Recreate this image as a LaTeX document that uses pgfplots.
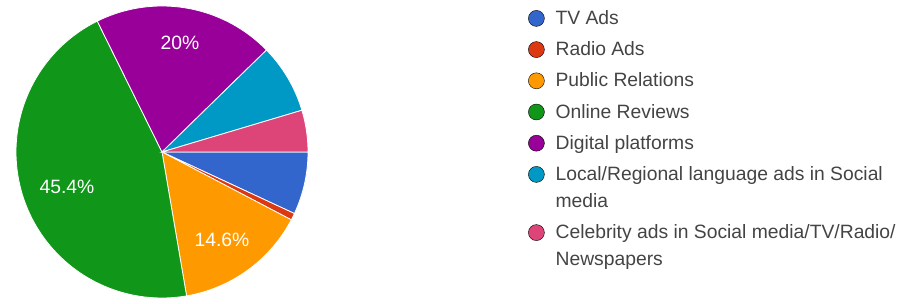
\documentclass[border=0pt]{standalone}
\usepackage{pgfplots}
\pgfplotsset{compat=1.18}
\usepackage{fontspec}
\setmainfont{Liberation Sans}
\definecolor{cTV}{HTML}{3366CC}
\definecolor{cRadio}{HTML}{DC3912}
\definecolor{cPR}{HTML}{FF9900}
\definecolor{cOR}{HTML}{109618}
\definecolor{cDP}{HTML}{990099}
\definecolor{cLoc}{HTML}{0099C6}
\definecolor{cCel}{HTML}{DD4477}
\definecolor{legendgray}{HTML}{444444}
% pie centre, radius and total number of responses (counts: 9,1,19,59,26,10,6)
\newcommand{\cx}{162}
\newcommand{\cy}{151}
\newcommand{\R}{146}
\newcommand{\N}{130}
\begin{document}
\begin{tikzpicture}
\begin{axis}[
  scale only axis, width=907pt, height=303pt,
  xmin=0, xmax=907, ymin=0, ymax=303,
  hide axis, clip=false,
  legend style={at={(axis cs:528,293)}, anchor=north west, draw=none, fill=none,
    inner sep=0pt, row sep=13pt, column sep=11pt,
    font=\fontsize{19.3}{27}\selectfont,
    cells={anchor=base west},
    nodes={inner sep=0pt, text height=14pt, text depth=4pt, text=legendgray}},
  legend image code/.code={\fill[#1] (8pt,6pt) circle (8pt);},
]
\addplot[fill=cTV, draw=white, line width=0.8pt, domain=0:9, samples=20, forget plot]
  ({\cx+\R*cos(-x*360/\N)},{\cy+\R*sin(-x*360/\N)}) -- (axis cs:\cx,\cy) -- cycle;
\addplot[fill=cRadio, draw=white, line width=0.8pt, domain=9:10, samples=4, forget plot]
  ({\cx+\R*cos(-x*360/\N)},{\cy+\R*sin(-x*360/\N)}) -- (axis cs:\cx,\cy) -- cycle;
\addplot[fill=cPR, draw=white, line width=0.8pt, domain=10:29, samples=30, forget plot]
  ({\cx+\R*cos(-x*360/\N)},{\cy+\R*sin(-x*360/\N)}) -- (axis cs:\cx,\cy) -- cycle;
\addplot[fill=cOR, draw=white, line width=0.8pt, domain=29:88, samples=80, forget plot]
  ({\cx+\R*cos(-x*360/\N)},{\cy+\R*sin(-x*360/\N)}) -- (axis cs:\cx,\cy) -- cycle;
\addplot[fill=cDP, draw=white, line width=0.8pt, domain=88:114, samples=40, forget plot]
  ({\cx+\R*cos(-x*360/\N)},{\cy+\R*sin(-x*360/\N)}) -- (axis cs:\cx,\cy) -- cycle;
\addplot[fill=cLoc, draw=white, line width=0.8pt, domain=114:124, samples=20, forget plot]
  ({\cx+\R*cos(-x*360/\N)},{\cy+\R*sin(-x*360/\N)}) -- (axis cs:\cx,\cy) -- cycle;
\addplot[fill=cCel, draw=white, line width=0.8pt, domain=124:130, samples=12, forget plot]
  ({\cx+\R*cos(-x*360/\N)},{\cy+\R*sin(-x*360/\N)}) -- (axis cs:\cx,\cy) -- cycle;

\node[text=white, font=\fontsize{19.3}{23}\selectfont] at (axis cs:180,260) {20\%};
\node[text=white, font=\fontsize{19.3}{23}\selectfont] at (axis cs:67,116) {45.4\%};
\node[text=white, font=\fontsize{19.3}{23}\selectfont] at (axis cs:222,63) {14.6\%};

\addlegendimage{fill=cTV}\addlegendentry{TV Ads}
\addlegendimage{fill=cRadio}\addlegendentry{Radio Ads}
\addlegendimage{fill=cPR}\addlegendentry{Public Relations}
\addlegendimage{fill=cOR}\addlegendentry{Online Reviews}
\addlegendimage{fill=cDP}\addlegendentry{Digital platforms}
\addlegendimage{fill=cLoc}\addlegendentry[text depth=31pt]{\parbox[t]{345pt}{Local/Regional language ads in Social\\media}}
\addlegendimage{fill=cCel}\addlegendentry[text depth=31pt]{\parbox[t]{345pt}{Celebrity ads in Social media/TV/Radio/\\Newspapers}}
\end{axis}
\pgfresetboundingbox
\path (current axis.south west) rectangle (current axis.north east);
\end{tikzpicture}
\end{document}
